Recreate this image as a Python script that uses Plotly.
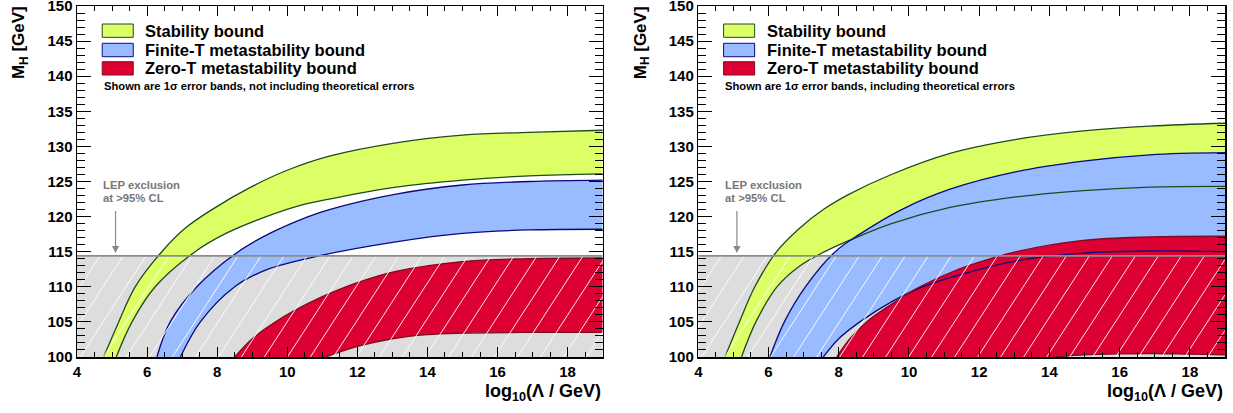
import numpy as np
import plotly.graph_objects as go

# ---------------- data ----------------
LEP_LIMIT = 114.4
X_RANGE = [4, 19]
M_RANGE = [100, 150]

# Left panel: not including theoretical errors
L_stab_hi_x = [4.76, 5.19, 5.66, 6.42, 7.10, 7.85, 9.00, 10.0, 11.2, 13.1, 15.0, 16.9, 19.0]
L_stab_hi_m = [100, 105, 110, 115, 118.4, 121.0, 124.3, 126.6, 128.6, 130.5, 131.6, 132.0, 132.3]
L_stab_lo_x = [5.12, 5.57, 6.23, 7.37, 8.25, 9.40, 10.3, 11.2, 13.1, 15.0, 16.9, 19.0]
L_stab_lo_m = [100, 105, 110, 115, 117.6, 120.0, 121.5, 122.5, 124.2, 125.2, 125.8, 126.1]
L_blue_hi_x = [6.28, 6.66, 7.42, 8.60, 9.50, 10.6, 11.2, 13.1, 15.0, 16.9, 19.0]
L_blue_hi_m = [100, 105, 110, 115, 117.6, 120.0, 121.0, 123.2, 124.5, 125.0, 125.2]
L_blue_lo_x = [6.95, 7.52, 8.50, 9.40, 11.0, 13.1, 15.0, 16.9, 19.0]
L_blue_lo_m = [100, 105, 110, 112.4, 114.5, 116.4, 117.6, 118.1, 118.2]
L_red_hi_x = [8.50, 9.00, 9.60, 10.2, 11.0, 12.0, 13.1, 15.0, 16.9, 19.0]
L_red_hi_m = [100, 102.6, 104.8, 106.6, 108.6, 110.6, 112.2, 113.6, 114.0, 114.1]
L_red_lo_x = [11.1, 12.0, 13.0, 14.0, 15.0, 17.0, 19.0]
L_red_lo_m = [100, 101.5, 102.6, 103.2, 103.4, 103.5, 103.5]

# Right panel: including theoretical errors
R_stab_hi_x = [4.76, 5.17, 5.61, 6.23, 6.90, 7.56, 8.30, 9.50, 11.17, 13.06, 14.96, 16.86, 19.0]
R_stab_hi_m = [100, 105, 110, 115, 118.4, 121.0, 123.2, 126.0, 129.0, 131.0, 132.2, 132.9, 133.3]
R_stab_lo_x = [5.23, 5.64, 6.24, 6.90, 7.60, 8.30, 9.50, 11.17, 13.06, 14.96, 16.86, 19.0]
R_stab_lo_m = [100, 105, 110, 113.0, 115.0, 116.6, 119.0, 121.3, 122.8, 123.7, 124.2, 124.3]
R_blue_hi_x = [6.04, 6.45, 7.05, 7.90, 8.60, 9.79, 11.17, 13.06, 14.96, 16.86, 19.0]
R_blue_hi_m = [100, 105, 110, 115, 117.5, 121.0, 123.9, 126.4, 127.9, 128.8, 129.1]
R_blue_lo_x = [7.56, 8.00, 8.60, 9.55, 10.3, 11.17, 13.06, 14.96, 16.86, 19.0]
R_blue_lo_m = [100, 102.6, 105.0, 108.0, 109.8, 111.3, 113.7, 114.8, 115.1, 115.0]
R_red_hi_x = [7.94, 8.30, 8.79, 9.50, 10.2, 11.17, 12.0, 13.06, 14.96, 16.86, 19.0]
R_red_hi_m = [100, 102.5, 105.0, 107.5, 109.7, 112.0, 113.5, 115.0, 116.6, 117.1, 117.2]
R_red_lo_x = [14.1, 15.0, 16.0, 17.0, 18.0, 19.0]
R_red_lo_m = [100, 100.3, 100.45, 100.5, 100.4, 100.3]

LEGEND_LABELS = ["Stability bound", "Finite-T metastability bound", "Zero-T metastability bound"]
NOTES = ["Shown are 1\u03c3 error bands, not including theoretical errors",
         "Shown are 1\u03c3 error bands, including theoretical errors"]

# ---------------- styles ----------------
FONT = "Liberation Sans"
GREEN_F, GREEN_L = "#DDFF66", "#1F4A1F"
BLUE_F, BLUE_L = "#99BBFF", "#0A0A80"
RED_F, RED_L = "#DD0033", "#800A1E"
GRAY_F, GRAY_L = "#DDDDDD", "#8C8C8C"

W, H = 1233, 413
ML, MR, MT, MB = 77, 8, 6, 56
PW = W - ML - MR
PH = H - MT - MB
DOM_L = [0, 0.4579]
DOM_R = [0.5412, 1.0]

fig = go.Figure()

panels = [
    dict(xa="x", ya="y", dom=DOM_L,
         bands=[(L_stab_lo_x, L_stab_lo_m, L_stab_hi_x, L_stab_hi_m, GREEN_F, GREEN_L),
                (L_blue_lo_x, L_blue_lo_m, L_blue_hi_x, L_blue_hi_m, BLUE_F, BLUE_L),
                (L_red_lo_x, L_red_lo_m, L_red_hi_x, L_red_hi_m, RED_F, RED_L)],
         note=NOTES[0]),
    dict(xa="x2", ya="y2", dom=DOM_R,
         bands=[(R_stab_lo_x, R_stab_lo_m, R_stab_hi_x, R_stab_hi_m, GREEN_F, GREEN_L),
                (R_blue_lo_x, R_blue_lo_m, R_blue_hi_x, R_blue_hi_m, BLUE_F, BLUE_L),
                (R_red_lo_x, R_red_lo_m, R_red_hi_x, R_red_hi_m, RED_F, RED_L)],
         note=NOTES[1]),
]

annotations = []
shapes = []

for p in panels:
    xa, ya = p["xa"], p["ya"]
    # LEP excluded region (gray)
    fig.add_trace(go.Scatter(x=[X_RANGE[0], X_RANGE[1], X_RANGE[1], X_RANGE[0]],
                             y=[M_RANGE[0], M_RANGE[0], LEP_LIMIT, LEP_LIMIT],
                             fill="toself", fillcolor=GRAY_F, line=dict(width=0),
                             mode="lines", hoverinfo="skip", showlegend=False,
                             xaxis=xa, yaxis=ya))
    # band fills
    for lx, lm, hx, hm, fc, lc in p["bands"]:
        fig.add_trace(go.Scatter(x=lx, y=lm, mode="lines",
                                 line=dict(width=0, shape="spline", smoothing=1.0),
                                 hoverinfo="skip", showlegend=False, xaxis=xa, yaxis=ya))
        fig.add_trace(go.Scatter(x=hx, y=hm, mode="lines", fill="tonexty", fillcolor=fc,
                                 line=dict(width=0, shape="spline", smoothing=1.0),
                                 hoverinfo="skip", showlegend=False, xaxis=xa, yaxis=ya))
    # band outlines on top
    for lx, lm, hx, hm, fc, lc in p["bands"]:
        for cx, cm in ((lx, lm), (hx, hm)):
            fig.add_trace(go.Scatter(x=cx, y=cm, mode="lines",
                                     line=dict(width=1.3, color=lc, shape="spline", smoothing=1.0),
                                     hoverinfo="skip", showlegend=False, xaxis=xa, yaxis=ya))
    # hatch lines over the LEP excluded region
    dom_w = (p["dom"][1] - p["dom"][0]) * PW
    sx = dom_w / (X_RANGE[1] - X_RANGE[0])       # px per x unit
    sy = PH / (M_RANGE[1] - M_RANGE[0])          # px per M unit
    ang = np.deg2rad(57)
    hpx = (LEP_LIMIT - M_RANGE[0]) * sy
    dxpx = hpx / np.tan(ang)
    spacing = 23.0
    hx_all, hy_all = [], []
    start = -dxpx
    while start < dom_w:
        x0p = start
        t0, t1 = 0.0, 1.0
        if x0p < 0:
            t0 = -x0p / dxpx
        if x0p + dxpx > dom_w:
            t1 = (dom_w - x0p) / dxpx
        if t1 > t0:
            for t in (t0, t1):
                hx_all.append(X_RANGE[0] + (x0p + t * dxpx) / sx)
                hy_all.append(M_RANGE[0] + (t * hpx) / sy)
            hx_all.append(None)
            hy_all.append(None)
        start += spacing
    fig.add_trace(go.Scatter(x=hx_all, y=hy_all, mode="lines",
                             line=dict(width=1, color="rgba(255,255,255,0.9)"),
                             hoverinfo="skip", showlegend=False, xaxis=xa, yaxis=ya))
    # LEP limit line
    fig.add_trace(go.Scatter(x=X_RANGE, y=[LEP_LIMIT, LEP_LIMIT], mode="lines",
                             line=dict(width=1.6, color=GRAY_L),
                             hoverinfo="skip", showlegend=False, xaxis=xa, yaxis=ya))

    xd = xa + " domain"
    yd = ya + " domain"
    # legend boxes and labels
    box_y = [(0.9108, 0.9487), (0.8555, 0.8937), (0.8034, 0.8413)]
    cols = [(GREEN_F, GREEN_L), (BLUE_F, BLUE_L), (RED_F, RED_L)]
    for (y0, y1), (fc, lc), lab in zip(box_y, cols, LEGEND_LABELS):
        shapes.append(dict(type="rect", xref=xd, yref=yd, x0=0.048, x1=0.107, y0=y0, y1=y1,
                           fillcolor=fc, line=dict(color=lc, width=1)))
        annotations.append(dict(xref=xd, yref=yd, x=0.126, y=(y0 + y1) / 2, text=lab,
                                showarrow=False, xanchor="left", yanchor="middle",
                                font=dict(family=FONT, size=16.5, color="black", weight="bold")))
    annotations.append(dict(xref=xd, yref=yd, x=0.047, y=0.772, text=p["note"],
                            showarrow=False, xanchor="left", yanchor="middle",
                            font=dict(family=FONT, size=11.2, color="black", weight="bold")))
    # LEP label and arrow
    annotations.append(dict(xref=xa, yref=ya, x=4.69, y=124.5, text="LEP exclusion",
                            showarrow=False, xanchor="left", yanchor="middle",
                            font=dict(family=FONT, size=11.3, color="#777777", weight="bold")))
    annotations.append(dict(xref=xa, yref=ya, x=4.69, y=122.65, text="at &gt;95% CL",
                            showarrow=False, xanchor="left", yanchor="middle",
                            font=dict(family=FONT, size=11.3, color="#777777", weight="bold")))
    annotations.append(dict(xref=xa, yref=ya, x=5.1, y=114.8, ax=5.1, ay=121.0,
                            axref=xa, ayref=ya, text="", showarrow=True, arrowhead=2,
                            arrowsize=1.2, arrowwidth=1.2, arrowcolor="#888888"))
    # axis titles
    annotations.append(dict(xref=xd, yref=yd, x=1.0, y=-0.10, text="log<sub>10</sub>(\u039b / GeV)",
                            showarrow=False, xanchor="right", yanchor="middle",
                            font=dict(family=FONT, size=18, color="black", weight="bold")))
    annotations.append(dict(xref=xd, yref=yd, x=-0.108, y=0.895, text="M<sub>H</sub> [GeV]",
                            showarrow=False, xanchor="center", yanchor="middle", textangle=-90,
                            font=dict(family=FONT, size=17, color="black", weight="bold")))

axis_common = dict(showgrid=False, zeroline=False, showline=True, linecolor="black",
                   linewidth=1.5, mirror="allticks", ticks="inside", tickcolor="black",
                   automargin=False, ticklabeloverflow="allow",
                   tickfont=dict(family=FONT, size=15, color="black", weight="bold"))

x_common = dict(axis_common, range=X_RANGE, tick0=4, dtick=2, ticklen=10, tickwidth=1,
                minor=dict(ticks="inside", dtick=0.5, ticklen=5, tickcolor="black", tickwidth=1))
y_common = dict(axis_common, range=M_RANGE, tick0=100, dtick=5, ticklen=14, tickwidth=1,
                minor=dict(ticks="inside", dtick=1, ticklen=8, tickcolor="black", tickwidth=1))

fig.update_layout(
    width=W, height=H,
    margin=dict(l=ML, r=MR, t=MT, b=MB, pad=0, autoexpand=False),
    paper_bgcolor="white", plot_bgcolor="white",
    showlegend=False,
    xaxis=dict(x_common, domain=DOM_L, anchor="y"),
    yaxis=dict(y_common, domain=[0, 1], anchor="x"),
    xaxis2=dict(x_common, domain=DOM_R, anchor="y2"),
    yaxis2=dict(y_common, domain=[0, 1], anchor="x2"),
    annotations=annotations,
    shapes=shapes,
)

fig.write_html("out.html", config={"displayModeBar": False, "staticPlot": True},
               post_script="document.body.style.margin='0px';document.body.style.overflow='hidden';")
